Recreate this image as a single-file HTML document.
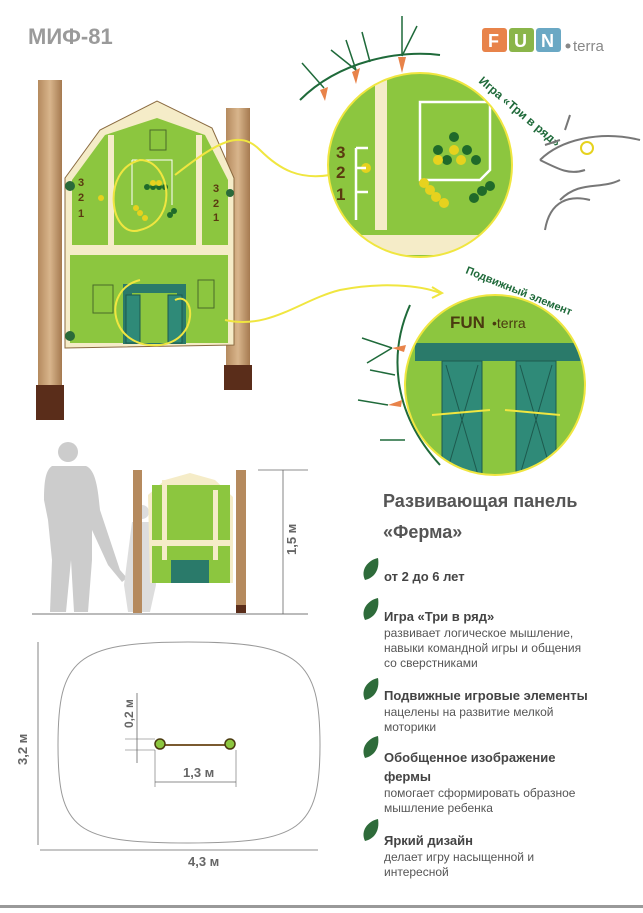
<!DOCTYPE html>
<html><head><meta charset="utf-8"><style>
body{margin:0;background:#fff;}
svg{display:block;font-family:"Liberation Sans",sans-serif;}
</style></head><body>
<svg width="643" height="913" viewBox="0 0 643 913" xmlns="http://www.w3.org/2000/svg">
<defs>
<clipPath id="c1"><circle cx="420" cy="165" r="92"/></clipPath>
<clipPath id="c2"><circle cx="495" cy="385" r="90"/></clipPath>
<linearGradient id="wood" x1="0" x2="1"><stop offset="0" stop-color="#b58a5e"/><stop offset=".5" stop-color="#d8b58c"/><stop offset="1" stop-color="#a57a50"/></linearGradient>
</defs>
<text x="28" y="44" font-size="22" font-weight="bold" fill="#9a9a9a">МИФ-81</text>
<rect x="482" y="28" width="25" height="24" rx="3" fill="#e8834a"/><text x="488" y="47" font-size="18" font-weight="bold" fill="#fff">F</text>
<rect x="509" y="28" width="25" height="24" rx="3" fill="#8ab54a"/><text x="514" y="47" font-size="18" font-weight="bold" fill="#fff">U</text>
<rect x="536" y="28" width="25" height="24" rx="3" fill="#6aa8c4"/><text x="541" y="47" font-size="18" font-weight="bold" fill="#fff">N</text>
<circle cx="568" cy="46" r="2.5" fill="#888"/><text x="573" y="51" font-size="15" fill="#888">terra</text>
<!-- main illustration -->
<rect x="38" y="80" width="24" height="340" fill="url(#wood)"/>
<rect x="36" y="385" width="28" height="35" fill="#5a2d1a"/>
<rect x="226" y="108" width="24" height="280" fill="url(#wood)"/>
<rect x="224" y="365" width="28" height="25" fill="#5a2d1a"/>
<path d="M65 178 L100 130 L157 101 L212 128 L234 178 L234 345 L65 348 Z" fill="#f5ecc8" stroke="#8a6a40" stroke-width="1"/>
<path d="M72 180 L105 135 L157 118 L205 135 L228 180 L228 245 L72 245 Z" fill="#8cc63f"/>
<rect x="70" y="255" width="158" height="88" fill="#8cc63f"/>
<rect x="108" y="135" width="6" height="110" fill="#f5ecc8"/>
<rect x="196" y="135" width="6" height="110" fill="#f5ecc8"/>
<rect x="72" y="245" width="156" height="10" fill="#f5ecc8"/>
<rect x="123" y="284" width="63" height="60" fill="#2a7a6a"/>
<rect x="132" y="293" width="45" height="50" fill="#8cc63f"/>
<rect x="126" y="295" width="14" height="48" fill="#2f8a78" stroke="#1d5a4e"/>
<rect x="168" y="295" width="14" height="48" fill="#2f8a78" stroke="#1d5a4e"/>
<rect x="93" y="285" width="20" height="28" fill="none" stroke="#4a6a2a"/>
<rect x="198" y="280" width="16" height="28" fill="none" stroke="#4a6a2a"/>
<rect x="150" y="130" width="16" height="20" fill="none" stroke="#4a6a2a"/>
<text x="78" y="186" font-size="11" font-weight="bold" fill="#5a3a10">3</text><text x="78" y="201" font-size="11" font-weight="bold" fill="#5a3a10">2</text><text x="78" y="217" font-size="11" font-weight="bold" fill="#5a3a10">1</text>
<text x="213" y="192" font-size="11" font-weight="bold" fill="#5a3a10">3</text><text x="213" y="207" font-size="11" font-weight="bold" fill="#5a3a10">2</text><text x="213" y="221" font-size="11" font-weight="bold" fill="#5a3a10">1</text>
<path d="M132 160 L172 160 L172 205 M132 160 L132 205" stroke="#fff" fill="none"/>
<g fill="#1f6a2a"><circle cx="147" cy="187" r="3"/><circle cx="153" cy="187" r="3"/><circle cx="159" cy="187" r="3"/><circle cx="165" cy="187" r="3"/><circle cx="170" cy="215" r="3"/><circle cx="174" cy="211" r="3"/></g>
<g fill="#e6d21e"><circle cx="153" cy="183" r="3"/><circle cx="159" cy="183" r="3"/><circle cx="136" cy="208" r="3"/><circle cx="140" cy="213" r="3"/><circle cx="145" cy="218" r="3"/><circle cx="101" cy="198" r="3"/></g>
<circle cx="70" cy="186" r="5" fill="#2a6a3a"/><circle cx="70" cy="336" r="5" fill="#2a6a3a"/><circle cx="230" cy="193" r="4" fill="#2a6a3a"/>
<path d="M140 160 C100 170 110 240 140 230 C180 220 170 160 140 160 Z" fill="none" stroke="#f0e640" stroke-width="2"/>
<path d="M175 175 C220 140 240 130 260 150 C280 170 300 180 330 175" fill="none" stroke="#f0e640" stroke-width="2"/>
<path d="M140 280 C100 290 110 350 160 345 C200 340 195 290 175 300" fill="none" stroke="#f0e640" stroke-width="2"/>
<path d="M225 320 C270 330 300 300 340 290 C380 282 420 285 440 293" fill="none" stroke="#f0e640" stroke-width="2"/>
<path d="M432 287 L442 293 L432 298" fill="none" stroke="#f0e640" stroke-width="2"/>
<!-- circle 1 -->
<path d="M300 100 C340 60 400 50 440 55" fill="none" stroke="#1f6a3a" stroke-width="2"/>
<g fill="#e8834a"><path d="M352 72 l8 -4 l-4 16 z"/><path d="M398 57 l8 0 l-4 16 z"/><path d="M320 90 l8 -3 l-3 14 z"/></g>
<g stroke="#1f6a3a" fill="none" stroke-width="1.5"><path d="M356 70 l-10 -30 M356 70 l-25 -20 M402 56 l0 -40 M402 56 l15 -30 M324 88 l-22 -25 M370 62 l-8 -30"/></g>
<g clip-path="url(#c1)">
<rect x="320" y="70" width="200" height="200" fill="#8cc63f"/>
<rect x="375" y="80" width="12" height="150" fill="#f5ecc8"/>
<rect x="330" y="235" width="190" height="20" fill="#f5ecc8"/>
<path d="M420 102 L490 102 L490 170 L480 180 L420 180 Z" fill="none" stroke="#fff" stroke-width="2.5"/>
<g fill="#1f6a2a"><circle cx="438" cy="150" r="5"/><circle cx="447" cy="160" r="5"/><circle cx="467" cy="150" r="5"/><circle cx="476" cy="160" r="5"/><circle cx="454" cy="137" r="5"/><circle cx="474" cy="198" r="5"/><circle cx="482" cy="191" r="5"/><circle cx="490" cy="186" r="5"/></g>
<g fill="#e6d21e"><circle cx="454" cy="150" r="5"/><circle cx="461" cy="160" r="5"/><circle cx="438" cy="160" r="5"/><circle cx="424" cy="183" r="5"/><circle cx="430" cy="190" r="5"/><circle cx="436" cy="197" r="5"/><circle cx="444" cy="203" r="5"/><circle cx="366" cy="168" r="5"/></g>
<path d="M356 148 L356 220 M356 148 L368 148 M356 168 L366 168 M356 192 L368 192" stroke="#fff" stroke-width="2.5" fill="none"/>
<text x="336" y="158" font-size="17" font-weight="bold" fill="#5a3a10">3</text><text x="336" y="178" font-size="17" font-weight="bold" fill="#5a3a10">2</text><text x="336" y="200" font-size="17" font-weight="bold" fill="#5a3a10">1</text>
</g>
<circle cx="420" cy="165" r="92" fill="none" stroke="#f0e640" stroke-width="2"/>
<text font-size="12" font-weight="bold" fill="#1f6a3a" transform="translate(478 82) rotate(40)">Игра «Три в ряд»</text>
<!-- eagle -->
<g fill="none" stroke="#777" stroke-width="2"><path d="M540 160 C560 140 600 130 640 140 M540 160 C560 170 570 175 585 170 M560 200 C580 180 600 190 620 180 M545 230 C550 200 570 195 590 200 M565 130 l5 -15 M560 140 l-15 5"/></g>
<circle cx="587" cy="148" r="6" fill="none" stroke="#e6d21e" stroke-width="2"/>
<!-- circle 2 -->
<text font-size="11" font-weight="bold" fill="#1f6a3a" transform="translate(465 273) rotate(22)">Подвижный элемент</text>
<path d="M410 305 C390 350 390 410 440 465" fill="none" stroke="#1f6a3a" stroke-width="2"/>
<g fill="#e8834a"><path d="M392 348 l14 -3 l-2 7 z"/><path d="M388 405 l14 -5 l-1 7 z"/></g>
<g stroke="#1f6a3a" fill="none" stroke-width="1.5"><path d="M392 348 l-30 -10 M392 348 l-25 15 M388 405 l-30 -5 M395 375 l-25 -5 M405 440 l-25 0"/></g>
<g clip-path="url(#c2)">
<rect x="400" y="290" width="190" height="190" fill="#8cc63f"/>
<rect x="415" y="343" width="170" height="18" fill="#2a7a6a"/>
<rect x="442" y="361" width="40" height="120" fill="#2f8a78" stroke="#1d5a4e"/>
<rect x="516" y="361" width="40" height="120" fill="#2f8a78" stroke="#1d5a4e"/>
<path d="M446 365 L478 475 M478 365 L446 475 M520 365 L552 475 M552 365 L520 475" stroke="#1d5a4e"/>
<path d="M432 415 L490 410 M560 415 L505 410" stroke="#f0e640" stroke-width="2"/>
<text x="450" y="328" font-size="17" font-weight="bold" fill="#4a3a10">FUN</text><text x="492" y="328" font-size="14" fill="#4a3a10">•terra</text>
</g>
<circle cx="495" cy="385" r="90" fill="none" stroke="#f0e640" stroke-width="2"/>
<!-- side view -->
<g fill="#ccc">
<circle cx="68" cy="452" r="10"/>
<path d="M52 466 L86 466 C96 470 98 490 100 510 L120 570 L127 578 L122 582 L108 565 L92 530 L92 560 L88 612 L74 612 L71 560 L66 612 L50 612 L52 560 L48 520 L44 500 C44 480 46 470 52 466 Z"/>
</g>
<g fill="#ddd">
<circle cx="142" cy="512" r="7"/>
<path d="M132 522 L152 522 L156 585 L150 612 L128 612 L124 585 Z"/>
</g>
<rect x="133" y="470" width="9" height="144" fill="#b58a5e"/>
<rect x="236" y="470" width="10" height="144" fill="#b58a5e"/>
<rect x="236" y="605" width="10" height="9" fill="#5a2d1a"/>
<path d="M148 495 L165 480 L190 473 L215 480 L233 497 L233 583 L150 583 Z" fill="#f5ecc8"/>
<rect x="152" y="485" width="78" height="98" fill="#8cc63f"/>
<rect x="162" y="480" width="5" height="80" fill="#f5ecc8"/><rect x="213" y="490" width="5" height="70" fill="#f5ecc8"/>
<rect x="150" y="540" width="82" height="6" fill="#f5ecc8"/>
<rect x="171" y="560" width="38" height="23" fill="#2a7a6a"/>
<rect x="32" y="613" width="276" height="2" fill="#bbb"/>
<line x1="258" y1="470" x2="308" y2="470" stroke="#666" stroke-width=".8"/>
<line x1="283" y1="470" x2="283" y2="614" stroke="#666" stroke-width=".8"/>
<text font-size="13" font-weight="bold" fill="#666" transform="translate(296 555) rotate(-90)">1,5 м</text>
<!-- top view -->
<path d="M188 642 C300 642 320 660 320 745 C320 830 300 843 188 843 C75 843 58 830 58 745 C58 660 75 642 188 642 Z" fill="none" stroke="#999" stroke-width="1"/>
<line x1="38" y1="642" x2="38" y2="845" stroke="#666" stroke-width=".8"/>
<text font-size="13" font-weight="bold" fill="#666" transform="translate(27 765) rotate(-90)">3,2 м</text>
<line x1="40" y1="850" x2="318" y2="850" stroke="#666" stroke-width=".8"/>
<text x="188" y="866" font-size="13" font-weight="bold" fill="#666">4,3 м</text>
<line x1="160" y1="745" x2="230" y2="745" stroke="#7a5a30" stroke-width="2"/>
<circle cx="160" cy="744" r="5" fill="#8cc63f" stroke="#4a3a10" stroke-width="1.5"/>
<circle cx="230" cy="744" r="5" fill="#8cc63f" stroke="#4a3a10" stroke-width="1.5"/>
<line x1="137" y1="693" x2="137" y2="763" stroke="#666" stroke-width=".8"/>
<line x1="125" y1="739" x2="155" y2="739" stroke="#666" stroke-width=".6"/><line x1="125" y1="750" x2="155" y2="750" stroke="#666" stroke-width=".6"/>
<text font-size="12" font-weight="bold" fill="#666" transform="translate(133 728) rotate(-90)">0,2 м</text>
<line x1="155" y1="782" x2="236" y2="782" stroke="#666" stroke-width=".8"/>
<line x1="155" y1="750" x2="155" y2="787" stroke="#666" stroke-width=".6"/><line x1="236" y1="750" x2="236" y2="787" stroke="#666" stroke-width=".6"/>
<text x="183" y="777" font-size="13" font-weight="bold" fill="#666">1,3 м</text>
<!-- text -->
<text x="383" y="507" font-size="18" font-weight="bold" fill="#555">Развивающая панель</text>
<text x="383" y="538" font-size="18" font-weight="bold" fill="#555">«Ферма»</text>
<g fill="#2e6b3a">
<path d="M365 580 C360 570 368 560 378 558 C380 570 374 578 365 580 Z"/>
<path d="M365 620 C360 610 368 600 378 598 C380 610 374 618 365 620 Z"/>
<path d="M365 700 C360 690 368 680 378 678 C380 690 374 698 365 700 Z"/>
<path d="M365 758 C360 748 368 738 378 736 C380 748 374 756 365 758 Z"/>
<path d="M365 841 C360 831 368 821 378 819 C380 831 374 839 365 841 Z"/>
</g>
<g font-size="13" font-weight="bold" fill="#444">
<text x="384" y="581">от 2 до 6 лет</text>
<text x="384" y="621">Игра «Три в ряд»</text>
<text x="384" y="700">Подвижные игровые элементы</text>
<text x="384" y="762">Обобщенное изображение</text>
<text x="384" y="781">фермы</text>
<text x="384" y="845">Яркий дизайн</text>
</g>
<g font-size="12" fill="#555">
<text x="384" y="637">развивает логическое мышление,</text>
<text x="384" y="652">навыки командной игры и общения</text>
<text x="384" y="667">со сверстниками</text>
<text x="384" y="716">нацелены на развитие мелкой</text>
<text x="384" y="731">моторики</text>
<text x="384" y="797">помогает сформировать образное</text>
<text x="384" y="812">мышление ребенка</text>
<text x="384" y="861">делает игру насыщенной и</text>
<text x="384" y="876">интересной</text>
</g>
<rect x="0" y="905" width="643" height="3" fill="#999"/>
</svg>
</body></html>
